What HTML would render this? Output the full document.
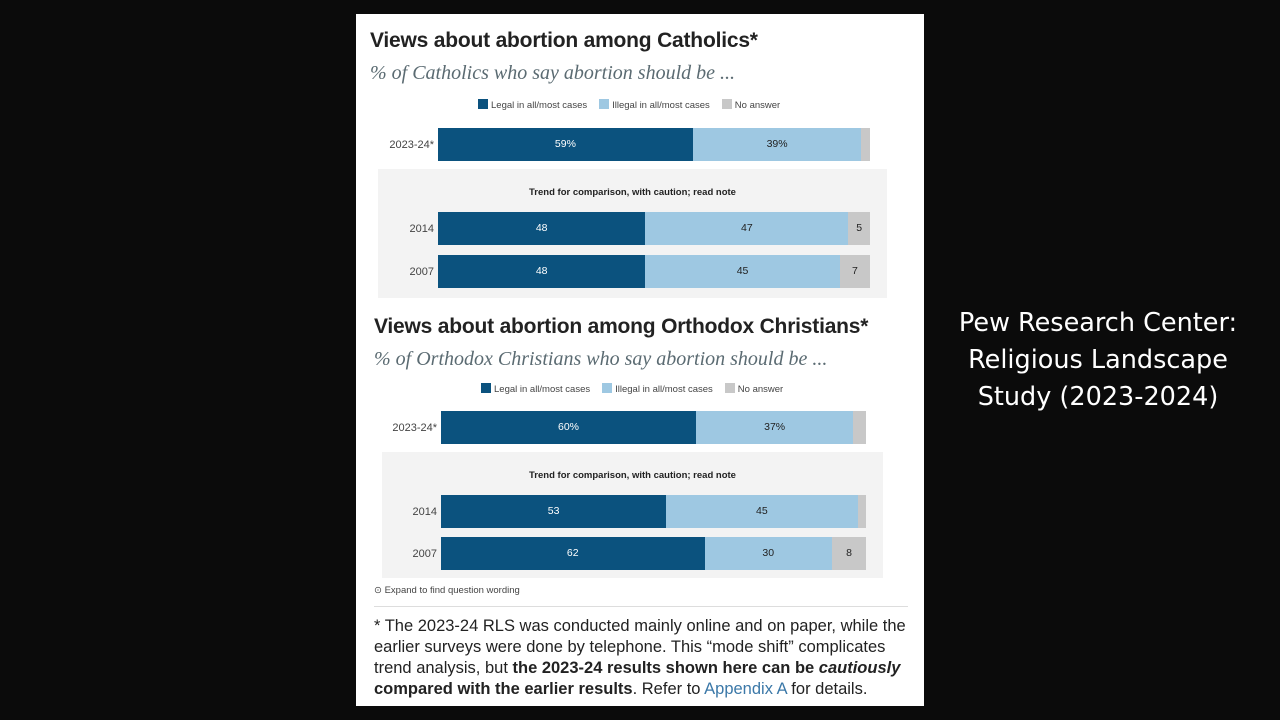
<!DOCTYPE html>
<html><head><meta charset="utf-8">
<style>
body{margin:0;width:1280px;height:720px;background:#0b0b0b;position:relative;overflow:hidden;font-family:"Liberation Sans",sans-serif}
#panel{position:absolute;left:356px;top:14px;width:568px;height:692px;background:#fff}
.a{position:absolute;white-space:nowrap}
.title{font-weight:bold;font-size:21px;color:#222;letter-spacing:-0.2px}
.sub{font-family:"Liberation Serif",serif;font-style:italic;font-size:20px;color:#5b6b72}
.leg{font-size:9.5px;color:#444}
.sw{display:inline-block;width:10px;height:10px;vertical-align:-1px;margin-right:3px}
.trend{background:#f3f3f3}
.tt{font-size:9.5px;font-weight:bold;color:#222}
.yl{font-size:11px;color:#444;text-align:right}
.seg{position:absolute;height:33px;font-size:10.5px;line-height:33px;text-align:center}
.note{font-size:16.5px;color:#222;line-height:21px;white-space:normal;width:536px}
#side{position:absolute;left:930px;top:305px;width:336px;text-align:center;color:#fff;font-family:"DejaVu Sans",sans-serif;font-size:25.5px;line-height:37px}
</style></head><body>
<div id="panel"></div>
<div id="side">Pew Research Center:<br>Religious Landscape<br>Study (2023-2024)</div>
<script>
const categories=["2023-24*","2014","2007"];
const cathLegal=[59,48,48];
const cathIllegal=[39,47,45];
const cathNone=[2,5,7];
const orthLegal=[60,53,62];
const orthIllegal=[37,45,30];
const orthNone=[3,2,8];
const seriesNames=["Legal in all/most cases","Illegal in all/most cases","No answer"];
const colors=["#0b527e","#9ec8e2","#c8c8c8"];
const P=document.getElementById('panel');
function add(cls,x,y,html,name){const d=document.createElement('div');d.className='a '+cls;d.style.left=x+'px';d.style.top=y+'px';d.innerHTML=html;


P.appendChild(d);return d;}
function chart(cfg){
  add('title',cfg.tx,cfg.ty+1,cfg.title,'chart-title');
  add('sub',cfg.tx,cfg.ty+34,cfg.sub,'chart-subtitle');
  const lg=add('leg',cfg.lx,cfg.ly,'','legend');
  seriesNames.forEach((n,i)=>{const s=document.createElement('span');s.style.marginRight='12px';s.innerHTML='<span class="sw" style="background:'+colors[i]+'"></span>'+n;
  
  
  lg.appendChild(s);});
  const tb=add('trend',cfg.box[0],cfg.box[1],'','trend-box');tb.style.width=cfg.box[2]+'px';tb.style.height=cfg.box[3]+'px';
  const t=add('tt',0,cfg.box[1]+18,'Trend for comparison, with caution; read note','trend-note');t.style.left=cfg.box[0]+'px';t.style.width=cfg.box[2]+'px';t.style.textAlign='center';
  const xs=v=>v/100*cfg.w;
  categories.forEach((c,r)=>{
    const y=cfg.rows[r];
    const l=add('yl',cfg.x-80,y+11,c,'y-label');l.style.width='76px';
    const vals=[cfg.legal[r],cfg.illegal[r],cfg.none[r]];let acc=0;
    vals.forEach((v,i)=>{const d=document.createElement('div');d.className='seg';
      d.style.left=(cfg.x+xs(acc))+'px';d.style.top=y+'px';d.style.width=xs(v)+'px';d.style.background=colors[i];
      d.style.color=i==0?'#fff':'#222';
      if(v>=5) d.textContent=v+(r==0?'%':'');
      
      
      P.appendChild(d);acc+=v;});
  });
}
chart({title:'Views about abortion among Catholics*',sub:'% of Catholics who say abortion should be ...',tx:14,ty:14,lx:122,ly:85,
 box:[22,155,509,129],x:82,w:432,rows:[114,198,241],legal:cathLegal,illegal:cathIllegal,none:cathNone});
chart({title:'Views about abortion among Orthodox Christians*',sub:'% of Orthodox Christians who say abortion should be ...',tx:18,ty:300,lx:125,ly:369,
 box:[26,438,501,126],x:85,w:425,rows:[397,481,523],legal:orthLegal,illegal:orthIllegal,none:orthNone});
const ex=add('leg',18,571,'&#8857; Expand to find question wording','expand-question-wording');ex.style.fontSize='9.5px';
const hr=add('',18,592,'','divider');hr.style.width='534px';hr.style.borderTop='1px solid #ddd';
add('note',18,602,'* The 2023-24 RLS was conducted mainly online and on paper, while the earlier surveys were done by telephone. This \u201cmode shift\u201d complicates trend analysis, but <b>the 2023-24 results shown here can be <i>cautiously</i> compared with the earlier results</b>. Refer to <span style="color:#3b78a8">Appendix A</span> for details.','footnote');
</script>
</body></html>
